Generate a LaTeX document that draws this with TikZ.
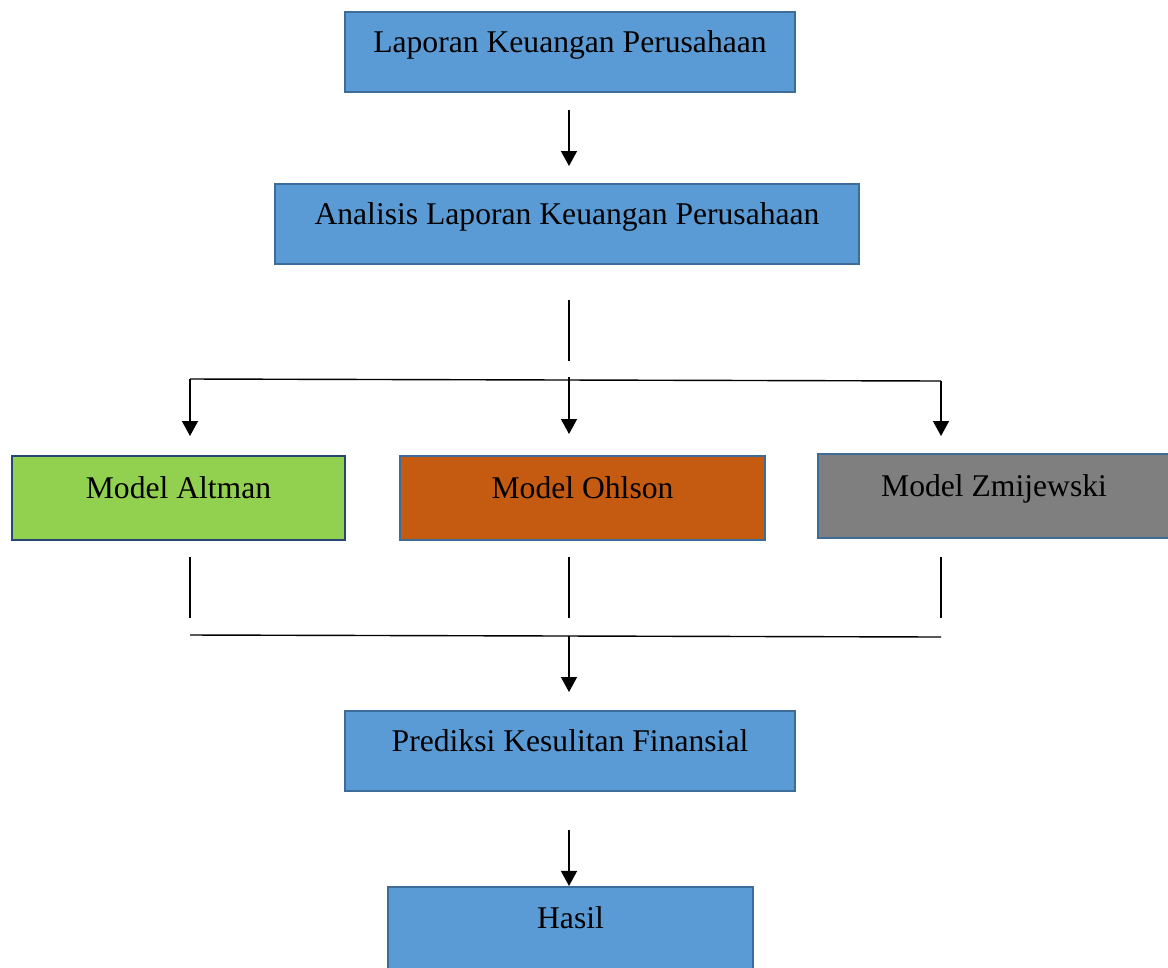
\documentclass[tikz,border=0pt]{standalone}
\usepackage{fontspec}
\setmainfont{Liberation Serif}
\usetikzlibrary{arrows.meta, positioning}
\definecolor{boxblue}{RGB}{91,155,213}
\definecolor{boxedge}{RGB}{62,108,152}
\definecolor{altgreen}{RGB}{146,208,80}
\definecolor{altedge}{RGB}{38,70,118}
\definecolor{ohlorange}{RGB}{197,90,17}
\definecolor{zmigray}{RGB}{127,127,127}
\tikzset{
  bluebox/.style={rectangle, draw=boxedge, fill=boxblue, inner sep=0pt,
    text height=0.8cm, text depth=0.8cm, line width=1.2pt},
  modelbox/.style={rectangle, draw=boxedge, inner sep=0pt,
    text height=0.84cm, text depth=0.84cm, line width=1.2pt},
  arrow/.style={-{Triangle[width=0.32cm, length=0.3cm]}, line width=0.8pt, color=black},
  line/.style={line width=0.8pt, color=black}
}

\begin{document}
\begin{tikzpicture}[x=0.02cm, y=-0.02cm, font=\fontsize{18}{21}\selectfont]
  \useasboundingbox (0,0) rectangle (1168,967);

  % Main boxes
  \node[bluebox, minimum width=9cm] (lap) at (570,52) {Laporan Keuangan Perusahaan};
  \node[bluebox, minimum width=11.68cm] (ana) at (567,224) {Analisis Laporan Keuangan Perusahaan};

  % The three models
  \node[modelbox, fill=altgreen, draw=altedge, minimum width=6.66cm] (alt) at (178.5,498) {Model Altman};
  \node[modelbox, fill=ohlorange, minimum width=7.3cm] (ohl) at (582.5,498) {Model Ohlson};
  \node[modelbox, fill=zmigray, minimum width=7.04cm] (zmi) at (994,496) {Model Zmijewski};

  \node[bluebox, minimum width=9cm] (pred) at (570,751) {Prediksi Kesulitan Finansial};
  \node[bluebox, minimum width=7.3cm, text height=0.82cm, text depth=1cm, anchor=base] (has) at (570.5,928) {Hasil};

  % Free ends of the connectors
  \coordinate (a1s) at (569,110);
  \coordinate (a1e) at (569,166);
  \coordinate (forks) at (569,300);
  \coordinate (forke) at (569,361);
  \coordinate (busL) at (190,379);
  \coordinate (busM) at (569,377);
  \coordinate (busR) at (941,381);
  \coordinate (altin) at (190,436);
  \coordinate (ohlin) at (569,434);
  \coordinate (zmiin) at (941,436);
  \coordinate (altout) at (190,557);
  \coordinate (ohlout) at (569,557);
  \coordinate (zmiout) at (941,557);
  \coordinate (joinL) at (190,635);
  \coordinate (joinM) at (569,636);
  \coordinate (joinR) at (941,637);
  \coordinate (predin) at (569,692);
  \coordinate (a4s) at (569,830);

  % Connectors
  \draw[arrow] (a1s) -- (a1e);
  \draw[line] (forks) -- (forke);
  \draw[line] (busL) -- (busR);
  \draw[arrow] (busL) -- (altin);
  \draw[arrow] (busM) -- (ohlin);
  \draw[arrow] (busR) -- (zmiin);

  \draw[line] (altout) -- (altout |- 0,618);
  \draw[line] (ohlout) -- (ohlout |- 0,618);
  \draw[line] (zmiout) -- (zmiout |- 0,618);
  \draw[line] (joinL) -- (joinR);
  \draw[arrow] (joinM) -- (predin);
  \draw[arrow] (a4s) -- (a4s |- has.north);
\end{tikzpicture}
\end{document}
